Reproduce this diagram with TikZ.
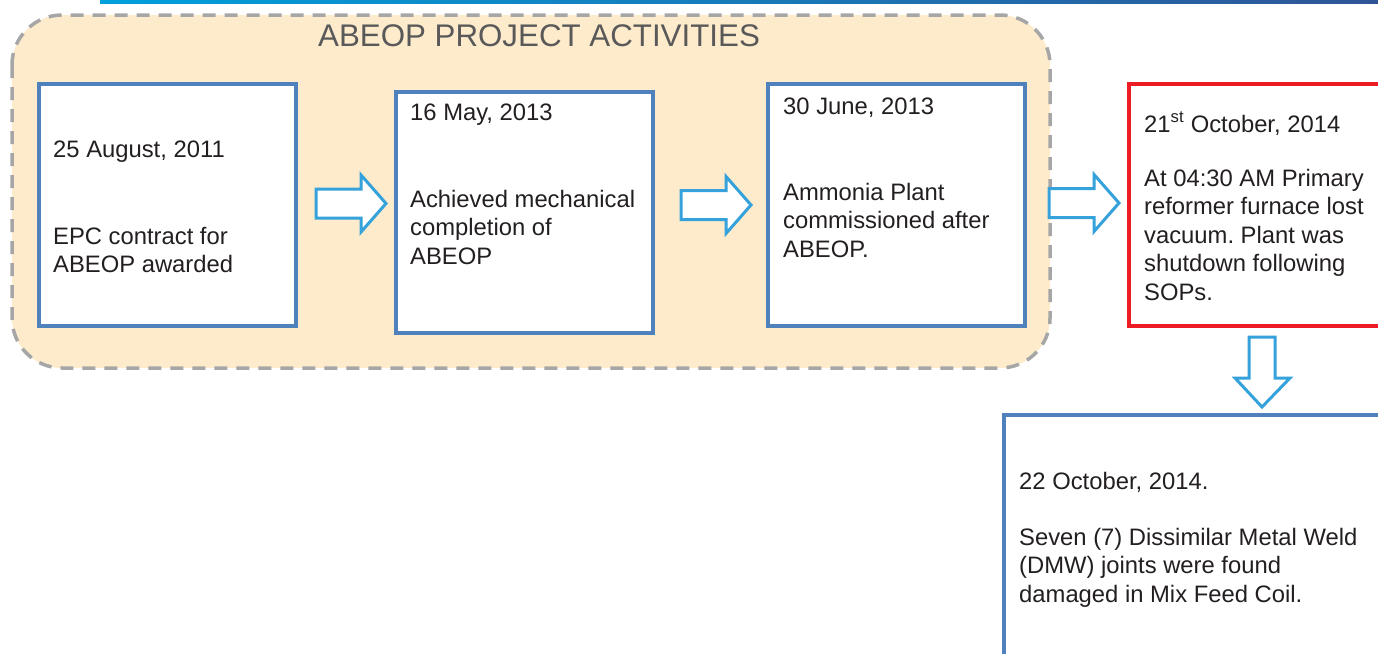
\documentclass[tikz,border=0pt]{standalone}
\usepackage{fontspec}
\setmainfont{Liberation Sans}
\frenchspacing
\definecolor{cardblue}{HTML}{4F81BD}
\definecolor{alertred}{HTML}{ED1C24}
\definecolor{arrowblue}{HTML}{35A2DB}
\definecolor{panelfill}{HTML}{FDEBCC}
\definecolor{panelline}{HTML}{A6A6A6}
\definecolor{titlegray}{HTML}{595959}
\definecolor{ink}{HTML}{231F20}
\definecolor{barleft}{HTML}{00A0DC}
\definecolor{barright}{HTML}{2F5597}
\begin{document}
\begin{tikzpicture}[x=1pt,y=-1pt,
  card/.style={draw=cardblue, line width=3.5pt, fill=white},
  redcard/.style={draw=alertred, line width=3.5pt, fill=white},
  txt/.style={anchor=north west, inner sep=0pt, text=ink, align=left,
    font=\fontsize{23.8}{28.5}\selectfont},
  flowarrow/.style={draw=arrowblue, line width=3pt, fill=white, line join=miter},
]
\useasboundingbox (0,0) rectangle (1378,653);
\clip (0,0) rectangle (1378,653);

% header bar
\shade[left color=barleft, right color=barright] (100,0) rectangle (1378,3);

% project activities panel
\draw[fill=panelfill, draw=panelline, line width=3.5pt, dash pattern=on 13pt off 9pt,
  rounded corners=50pt] (12,15) rectangle (1050,368);
\node[anchor=base, inner sep=0pt, text=titlegray, font=\fontsize{31.3}{36}\selectfont]
  (title) at (539,46) {ABEOP PROJECT ACTIVITIES};

% milestone cards
\draw[card] (39,84) rectangle (296,326);
\draw[card] (396,92) rectangle (653,333);
\draw[card] (768,84) rectangle (1025,326);
\draw[redcard] (1129,84) rectangle (1400,326);
\draw[card] (1004,415) rectangle (1400,680);

% card texts
\node[txt] (d1) at (53,141) {25 August, 2011};
\node[txt] (t1) at (53,227) {EPC contract for\\ABEOP awarded};
\node[txt] (d2) at (410,104) {16 May, 2013};
\node[txt] (t2) at (410,190) {Achieved mechanical\\completion of\\ABEOP};
\node[txt] (d3) at (783,98) {30 June, 2013};
\node[txt] (t3) at (783,183) {Ammonia Plant\\commissioned after\\ABEOP.};
\node[txt] (d4) at (1144,112) {21\textsuperscript{st} October, 2014};
\node[txt] (t4) at (1144,169) {At 04:30 AM Primary\\reformer furnace lost\\vacuum. Plant was\\shutdown following\\SOPs.};
\node[txt] (d5) at (1019,472) {22 October, 2014.};
\node[txt] (t5) at (1019,528) {Seven (7) Dissimilar Metal Weld\\(DMW) joints were found\\damaged in Mix Feed Coil.};

% block arrows between cards
\draw[flowarrow] (316,203.5) ++(0,-14.5) -- ++(45,0) -- ++(0,-14) -- ++(25,28.5)
  -- ++(-25,28.5) -- ++(0,-14) -- ++(-45,0) -- cycle;
\draw[flowarrow] (681,205) ++(0,-14.5) -- ++(45,0) -- ++(0,-14) -- ++(25,28.5)
  -- ++(-25,28.5) -- ++(0,-14) -- ++(-45,0) -- cycle;
\draw[flowarrow] (1049,203) ++(0,-14.5) -- ++(45,0) -- ++(0,-14) -- ++(25,28.5)
  -- ++(-25,28.5) -- ++(0,-14) -- ++(-45,0) -- cycle;
\draw[flowarrow] (1249,337) -- ++(26,0) -- ++(0,41) -- ++(15,0) -- ++(-28,29)
  -- ++(-27,-29) -- ++(14,0) -- cycle;
\end{tikzpicture}
\end{document}
